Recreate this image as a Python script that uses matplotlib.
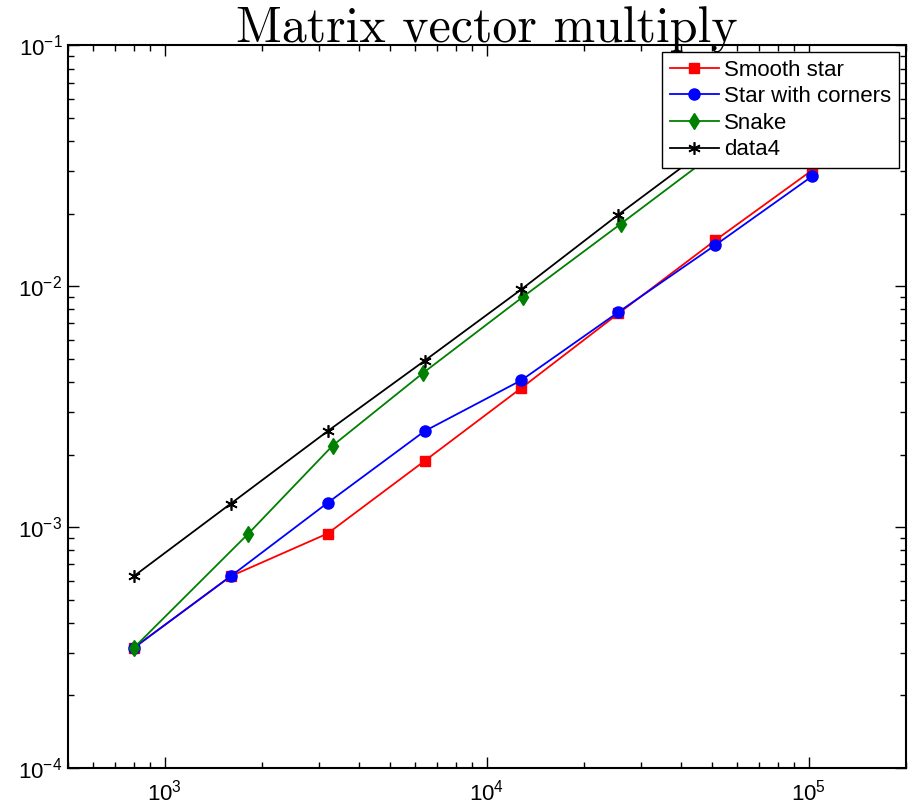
import numpy as np
import matplotlib
matplotlib.use("Agg")
import matplotlib.pyplot as plt

plt.rcParams['font.family'] = ['Liberation Sans', 'DejaVu Sans']
plt.rcParams['mathtext.fontset'] = 'custom'
plt.rcParams['mathtext.rm'] = 'Liberation Sans'
plt.rcParams['mathtext.it'] = 'Liberation Sans:italic'
plt.rcParams['mathtext.bf'] = 'Liberation Sans:bold'

# problem sizes
x_smooth = [800, 1600, 3200, 6400, 12800, 25600, 51200, 102400]
x_corners = [800, 1600, 3200, 6400, 12800, 25600, 51200, 102400]
x_snake = [800, 1810, 3320, 6320, 12900, 26000, 51500, 102800]
x_data4 = [800, 1600, 3200, 6400, 12800, 25600, 51200, 102400]

# times
t_smooth = [3.15e-4, 6.25e-4, 9.4e-4, 1.88e-3, 3.78e-3, 7.7e-3, 1.55e-2, 3.03e-2]
t_corners = [3.15e-4, 6.25e-4, 1.26e-3, 2.5e-3, 4.07e-3, 7.8e-3, 1.48e-2, 2.86e-2]
t_snake = [3.15e-4, 9.35e-4, 2.18e-3, 4.35e-3, 9.0e-3, 1.81e-2, 3.6e-2, 7.2e-2]
t_data4 = [6.25e-4, 1.25e-3, 2.5e-3, 4.9e-3, 9.7e-3, 1.98e-2, 3.95e-2, 7.9e-2]

labels = ['Smooth star', 'Star with corners', 'Snake', 'data4']

fig = plt.figure(figsize=(9.15, 8.07), dpi=100)
ax = fig.add_axes([0.0743, 0.0483, 0.9157, 0.8957])

ax.loglog(x_smooth, t_smooth, '-s', color='#ff0000', lw=1.3, ms=6.5, label=labels[0])
ax.loglog(x_corners, t_corners, '-o', color='#0000ff', lw=1.3, ms=8, label=labels[1])
ax.loglog(x_snake, t_snake, '-d', color='#008000', lw=1.3, ms=8, label=labels[2])
ax.loglog(x_data4, t_data4, '-', marker=(6, 2, 0), color='black', lw=1.3, ms=9, mew=1.2, label=labels[3])

ax.set_xlim(500, 2e5)
ax.set_ylim(1e-4, 1e-1)

ax.tick_params(which='both', direction='in', top=True, right=True, labelsize=16, width=1.0)
ax.tick_params(which='major', length=8)
ax.tick_params(which='minor', length=4)
ax.tick_params(axis='x', pad=8)
ax.tick_params(axis='y', pad=4)
for s in ax.spines.values():
    s.set_linewidth(1.5)

ax.set_title('Matrix vector multiply', fontfamily='cmr10', fontsize=36, y=1.0, pad=2)

leg = ax.legend(loc='upper right', fontsize=16, handlelength=2.2, frameon=True, fancybox=False,
                borderaxespad=0.3, labelspacing=0.25, handletextpad=0.25, borderpad=0.35)
leg.get_frame().set_edgecolor('black')
leg.get_frame().set_linewidth(1.0)
leg.get_frame().set_alpha(1.0)

fig.savefig('out.png', dpi=100)
